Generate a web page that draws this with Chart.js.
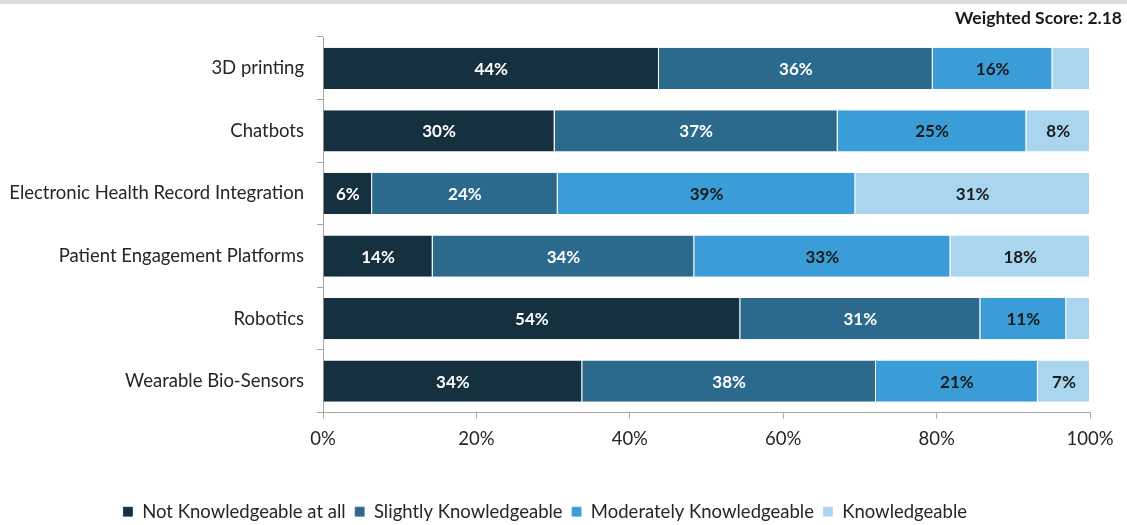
<!DOCTYPE html>
<html lang="en">

<head>
    <meta charset="UTF-8">
    <script src="https://cdn.jsdelivr.net/npm/chart.js"></script>
    <title>Knowledge of technologies</title>
    <style>
        html, body { margin: 0; padding: 0; background: #fff; }
        .box { width: 1127px; height: 525px; position: relative; }
    </style>
</head>

<body>
    <div class="box">
        <canvas id="myChart" width="1127" height="525"></canvas>
    </div>
</body>

</html>

<script>
    // categories + series (% of respondents)
    let tecnologias = ['3D printing', 'Chatbots', 'Electronic Health Record Integration',
        'Patient Engagement Platforms', 'Robotics', 'Wearable Bio-Sensors']
    let notKnowledgeable = [43.8, 30.2, 6.4, 14.3, 54.4, 33.8]
    let slightly = [35.7, 36.9, 24.2, 34.1, 31.3, 38.3]
    let moderately = [15.6, 24.6, 38.8, 33.4, 11.2, 21.1]
    let knowledgeable = [4.9, 8.3, 30.6, 18.2, 3.1, 6.8]
    let xTicks = [0, 20, 40, 60, 80, 100]

    const fonte = 'Lato, "Open Sans", sans-serif'

    // small % labels inside each segment + top band + weighted score
    const extras = {
        id: 'extras',
        beforeDraw(chart) {
            const c = chart.ctx
            c.save()
            c.fillStyle = '#dcdcdc'
            c.fillRect(0, 0, chart.width, 4)
            c.restore()
        },
        afterDatasetsDraw(chart) {
            const c = chart.ctx
            c.save()
            c.font = 'bold 17px ' + fonte
            c.textAlign = 'center'
            c.textBaseline = 'middle'
            chart.data.datasets.forEach((ds, i) => {
                const meta = chart.getDatasetMeta(i)
                meta.data.forEach((bar, j) => {
                    const v = ds.data[j]
                    if (v < 5.5) return
                    c.fillStyle = i < 2 ? '#ffffff' : '#1a1a1a'
                    c.fillText(Math.round(v) + '%', (bar.x + bar.base) / 2, bar.y + 1)
                })
            })
            c.font = 'bold 17.5px ' + fonte
            c.textAlign = 'right'
            c.fillStyle = '#1a1a1a'
            c.fillText('Weighted Score: 2.18', 1122, 18)
            c.restore()
        }
    }

    const ctx = document.getElementById('myChart')
    new Chart(ctx, {
        type: 'bar',
        data: {
            labels: tecnologias,
            datasets: [
                { label: 'Not Knowledgeable at all', data: notKnowledgeable, backgroundColor: '#15303f' },
                { label: 'Slightly Knowledgeable', data: slightly, backgroundColor: '#2b6a8d' },
                { label: 'Moderately Knowledgeable', data: moderately, backgroundColor: '#3b9dd7' },
                { label: 'Knowledgeable', data: knowledgeable, backgroundColor: '#a9d5ef' }
            ].map(d => Object.assign(d, {
                borderColor: '#ffffff',
                borderWidth: { left: 0, right: 1, top: 0, bottom: 0 },
                borderSkipped: false,
                barPercentage: 0.66,
                categoryPercentage: 1
            }))
        },
        options: {
            indexAxis: 'y',
            responsive: false,
            animation: false,
            layout: { padding: { top: 37, right: 37, left: 0, bottom: -6 } },
            scales: {
                x: {
                    stacked: true,
                    min: 0,
                    max: 100,
                    afterBuildTicks(s) { s.ticks = xTicks.map(v => ({ value: v })) },
                    afterFit(s) { s.height = 81 },
                    grid: { drawOnChartArea: false, tickLength: 6, color: '#a6a6a6' },
                    border: { color: '#a6a6a6' },
                    ticks: {
                        callback: v => v + '%',
                        color: '#262626',
                        font: { family: fonte, size: 18.5 },
                        padding: 9
                    }
                },
                y: {
                    stacked: true,
                    afterFit(s) { s.width = 323 },
                    grid: { drawOnChartArea: false, offset: true, tickLength: 6, color: '#a6a6a6' },
                    border: { color: '#a6a6a6' },
                    ticks: {
                        color: '#262626',
                        font: { family: fonte, size: 18.5 },
                        padding: 13
                    }
                }
            },
            plugins: {
                legend: {
                    position: 'bottom',
                    labels: {
                        boxWidth: 10,
                        boxHeight: 10,
                        color: '#262626',
                        font: { family: fonte, size: 18.5 },
                        padding: 9
                    }
                },
                tooltip: { enabled: false }
            }
        },
        plugins: [extras]
    })
</script>
